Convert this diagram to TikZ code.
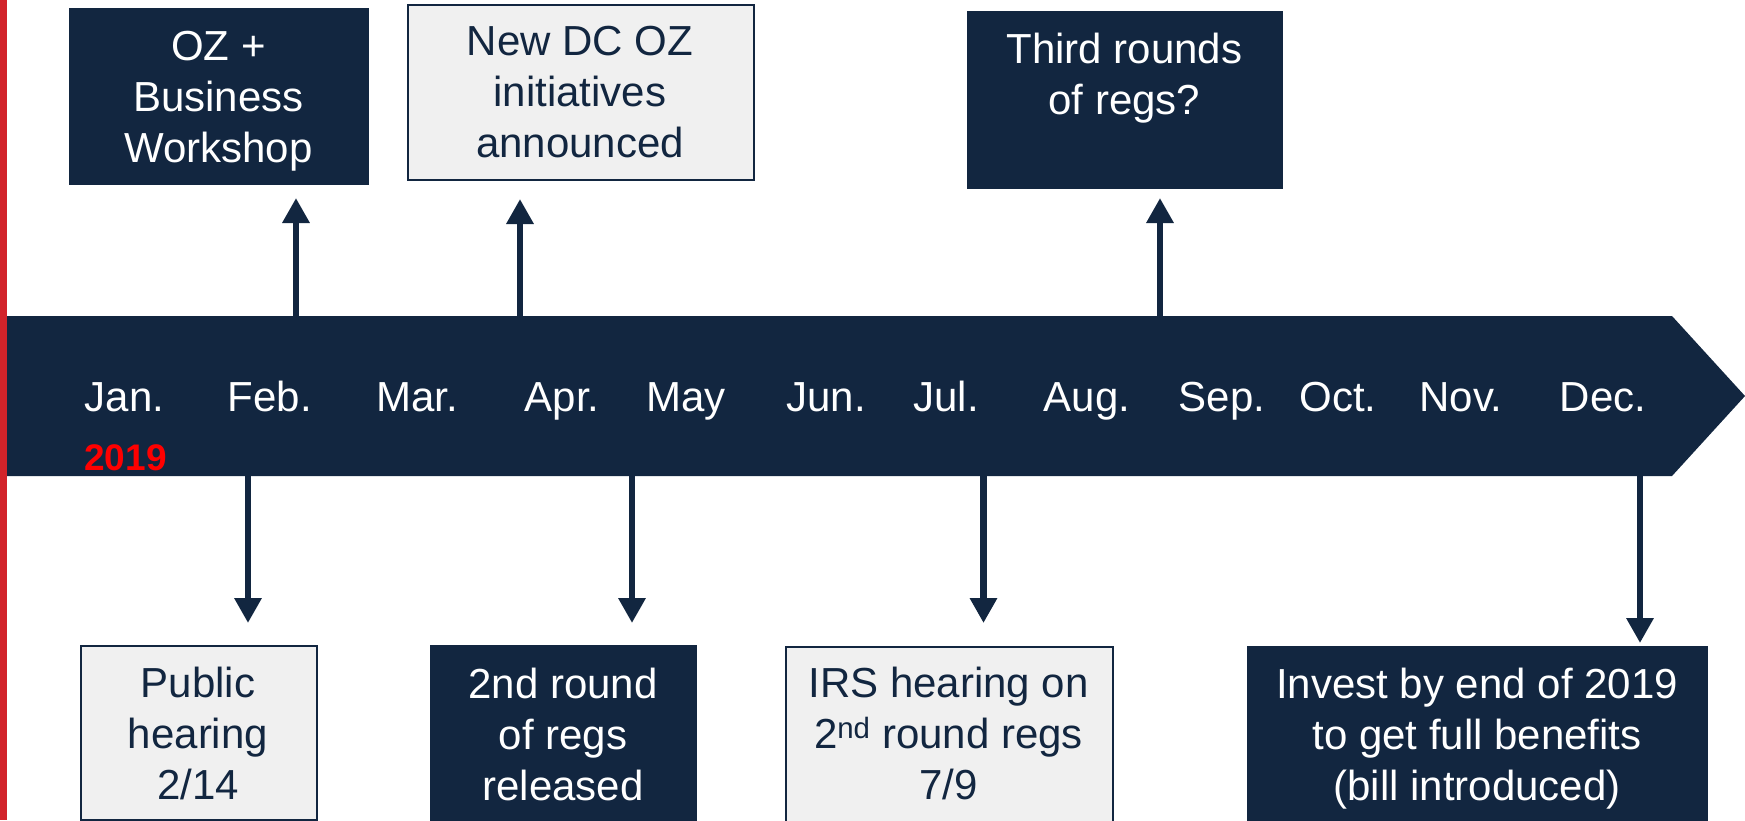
\documentclass[tikz,border=0pt]{standalone}
\usepackage{fontspec}
\setmainfont{Liberation Sans}
\usetikzlibrary{arrows.meta}
\definecolor{navy}{RGB}{18,38,64}
\definecolor{boxgray}{RGB}{240,240,240}
\definecolor{redbar}{RGB}{210,35,42}
\definecolor{yearred}{RGB}{255,0,0}
\newcommand\topstrut{\rule{0pt}{31pt}}
\newcommand\botstrut{\rule[-9pt]{0pt}{9pt}}
\newcommand\boxfont{\fontsize{42}{51}\selectfont}
\begin{document}
\begin{tikzpicture}[x=1pt,y=-1pt,
  darkbox/.style={draw=navy, fill=navy, line width=1pt, inner sep=0pt, anchor=north west},
  lightbox/.style={draw=navy, fill=boxgray, line width=2pt, inner sep=0pt, anchor=north west},
  darktext/.style={text=white, font=\boxfont, align=center, inner sep=0pt},
  lighttext/.style={text=navy, font=\boxfont, align=center, inner sep=0pt},
  month/.style={text=white, font=\boxfont, anchor=base, inner sep=0pt},
  conn/.style={draw=navy, line width=6.5pt, -{Triangle[width=26pt,length=25pt]}}
]
\useasboundingbox (0,0) rectangle (1745,820);
\clip (0,0) rectangle (1745,820);

% left red bar
\fill[redbar] (0,0) rectangle (7,820);

% timeline band
\fill[navy] (7,316) -- (1672,316) -- (1745,396) -- (1672,476) -- (7,476) -- cycle;

% months
\node[month] (jan) at (124.6,411) {Jan.};
\node[month] (feb) at (270,411) {Feb.};
\node[month] (mar) at (417,411) {Mar.};
\node[month] (apr) at (562,411) {Apr.};
\node[month] (may) at (686,411) {May};
\node[month] (jun) at (826,411) {Jun.};
\node[month] (jul) at (946,411) {Jul.};
\node[month] (aug) at (1087,411) {Aug.};
\node[month] (sep) at (1222,411) {Sep.};
\node[month] (oct) at (1338,411) {Oct.};
\node[month] (nov) at (1461,411) {Nov.};
\node[month] (dec) at (1603,411) {Dec.};
\node[text=yearred, font=\fontsize{37}{44}\selectfont\bfseries, anchor=base, inner sep=0pt] (year) at (125.5,470) {2019};

% top boxes
\node[darkbox, minimum width=299pt, minimum height=176pt] (b1) at (69,8) {};
\node[darktext] (t1) at (218.5,100) {\topstrut OZ +\\Business\\Workshop\botstrut};
\node[lightbox, minimum width=346pt, minimum height=175pt] (b2) at (407,4) {};
\node[lighttext] (t2) at (580,95) {\topstrut New DC OZ\\initiatives\\announced\botstrut};
\node[darkbox, minimum width=315pt, minimum height=177pt] (b3) at (967,11) {};
\node[darktext] (t3) at (1124.5,77.5) {\topstrut Third rounds\\of regs?\botstrut};

% bottom boxes
\node[lightbox, minimum width=236pt, minimum height=174pt] (b4) at (80,645) {};
\node[lighttext] (t4) at (198,737) {\topstrut Public\\hearing\\2/14\botstrut};
\node[darkbox, minimum width=266pt, minimum height=190pt] (b5) at (430,645) {};
\node[darktext] (t5) at (563,738) {\topstrut 2nd round\\of regs\\released\botstrut};
\node[lightbox, minimum width=327pt, minimum height=190pt] (b6) at (785,646) {};
\node[lighttext] (t6) at (948.5,737) {\topstrut IRS hearing on\\2\textsuperscript{nd} round regs\\7/9\botstrut};
\node[darkbox, minimum width=460pt, minimum height=190pt] (b7) at (1247,646) {};
\node[darktext] (t7) at (1477,738) {\topstrut Invest by end of 2019\\to get full benefits\\(bill introduced)\botstrut};

% arrow start points on the band
\coordinate (u1) at (296,316);
\coordinate (u2) at (520,316);
\coordinate (u3) at (1160,316);
\coordinate (d1) at (248,476);
\coordinate (d2) at (632,476);
\coordinate (d3) at (983.5,476);
\coordinate (d4) at (1640,476);

% connectors
\draw[conn, shorten >=13pt] (u1) -- (u1 |- b1.south);
\draw[conn, shorten >=18pt] (u2) -- (u2 |- b2.south);
\draw[conn, shorten >=9pt] (u3) -- (u3 |- b3.south);
\draw[conn, shorten >=22pt] (d1) -- (d1 |- b4.north);
\draw[conn, shorten >=22pt] (d2) -- (d2 |- b5.north);
\draw[conn, shorten >=23pt] (d3) -- (d3 |- b6.north);
\draw[conn, shorten >=3pt] (d4) -- (d4 |- b7.north);
\end{tikzpicture}
\end{document}
